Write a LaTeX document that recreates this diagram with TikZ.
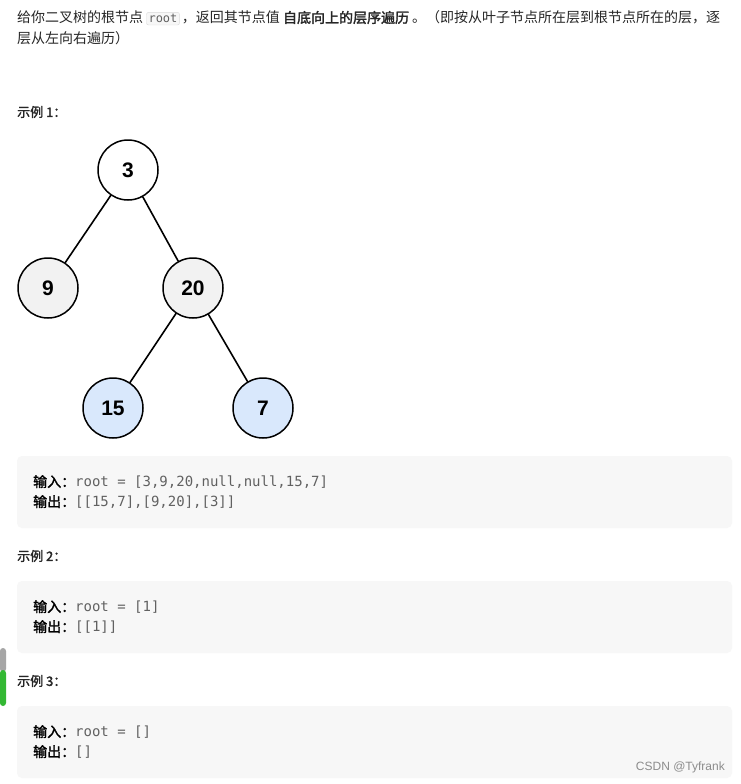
\documentclass[tikz,border=0pt]{standalone}
\usepackage{fontspec}
\setmainfont{Liberation Sans}
\setmonofont{DejaVu Sans Mono}
\newfontfamily\cjk{Noto Sans CJK SC}
\newfontfamily\cjkb{Noto Sans CJK SC}[FakeBold=2]
\definecolor{codebg}{rgb}{0.97,0.97,0.97}
\definecolor{midgray}{rgb}{0.95,0.95,0.95}
\definecolor{leafblue}{rgb}{0.85,0.91,0.99}
\definecolor{codetxt}{rgb}{0.38,0.38,0.38}
\definecolor{bodytxt}{rgb}{0.15,0.15,0.15}
\tikzset{
  treenode/.style={circle,draw=black,line width=1.5pt,minimum size=60pt,inner sep=0pt,font=\fontsize{21}{21}\selectfont\bfseries},
  treeedge/.style={line width=1.6pt},
  codebox/.style={fill=codebg,rounded corners=5pt,draw=none},
  para/.style={anchor=west,inner sep=0pt,font=\fontsize{14}{16}\selectfont\cjk,text=bodytxt},
  codeline/.style={anchor=west,inner sep=0pt,font=\fontsize{14}{16}\selectfont}
}
\begin{document}
\begin{tikzpicture}[x=1pt,y=-1pt,line cap=round,line join=round]
\useasboundingbox (0,0) rectangle (740,784);
\fill[white] (0,0) rectangle (740,784);
% intro text
\node[para] (intro) at (17,18) {给你二叉树的根节点 \tikz[baseline=(c.base)]\node[draw=black!15,fill=codebg,rounded corners=2pt,inner sep=2pt,font=\ttfamily\fontsize{12}{12}\selectfont,text=codetxt] (c) {root};\,，返回其节点值 {\cjkb 自底向上的层序遍历} 。（即按从叶子节点所在层到根节点所在的层，逐};
\node[para] (intro2) at (17,38) {层从左向右遍历）};
\node[para,font=\fontsize{13}{15}\selectfont\cjkb] (ex1) at (17,112) {示例 1：};
% tree
\node[treenode,fill=white] (n3) at (128,170) {3};
\node[treenode,fill=midgray] (n9) at (48,288) {9};
\node[treenode,fill=midgray] (n20) at (193,288) {20};
\node[treenode,fill=leafblue] (n15) at (113,408) {15};
\node[treenode,fill=leafblue] (n7) at (263,408) {7};
\draw[treeedge] (n3) -- (n9);
\draw[treeedge] (n3) -- (n20);
\draw[treeedge] (n20) -- (n15);
\draw[treeedge] (n20) -- (n7);
% examples
\fill[codebox] (17,456) rectangle (732,528);
\node[codeline] (in1) at (33,482) {{\cjkb 输入：}\texttt{\textcolor{codetxt}{root = [3,9,20,null,null,15,7]}}};
\node[codeline] (out1) at (33,502) {{\cjkb 输出：}\texttt{\textcolor{codetxt}{[[15,7],[9,20],[3]]}}};
\node[para,font=\fontsize{13}{15}\selectfont\cjkb] (ex2) at (17,556) {示例 2：};
\fill[codebox] (17,581) rectangle (732,653);
\node[codeline] (in2) at (33,607) {{\cjkb 输入：}\texttt{\textcolor{codetxt}{root = [1]}}};
\node[codeline] (out2) at (33,627) {{\cjkb 输出：}\texttt{\textcolor{codetxt}{[[1]]}}};
\node[para,font=\fontsize{13}{15}\selectfont\cjkb] (ex3) at (17,681) {示例 3：};
\fill[codebox] (17,706) rectangle (732,778);
\node[codeline] (in3) at (33,732) {{\cjkb 输入：}\texttt{\textcolor{codetxt}{root = []}}};
\node[codeline] (out3) at (33,752) {{\cjkb 输出：}\texttt{\textcolor{codetxt}{[]}}};
% scrollbar and watermark
\fill[black!35,rounded corners=3pt] (0,648) rectangle (6,672);
\fill[green!65!black!80,rounded corners=3pt] (0,670) rectangle (6,706);
\node[anchor=east,inner sep=0pt,font=\fontsize{12}{12}\selectfont,text=black!45] (wm) at (725,767) {CSDN @Tyfrank};
\end{tikzpicture}
\end{document}
